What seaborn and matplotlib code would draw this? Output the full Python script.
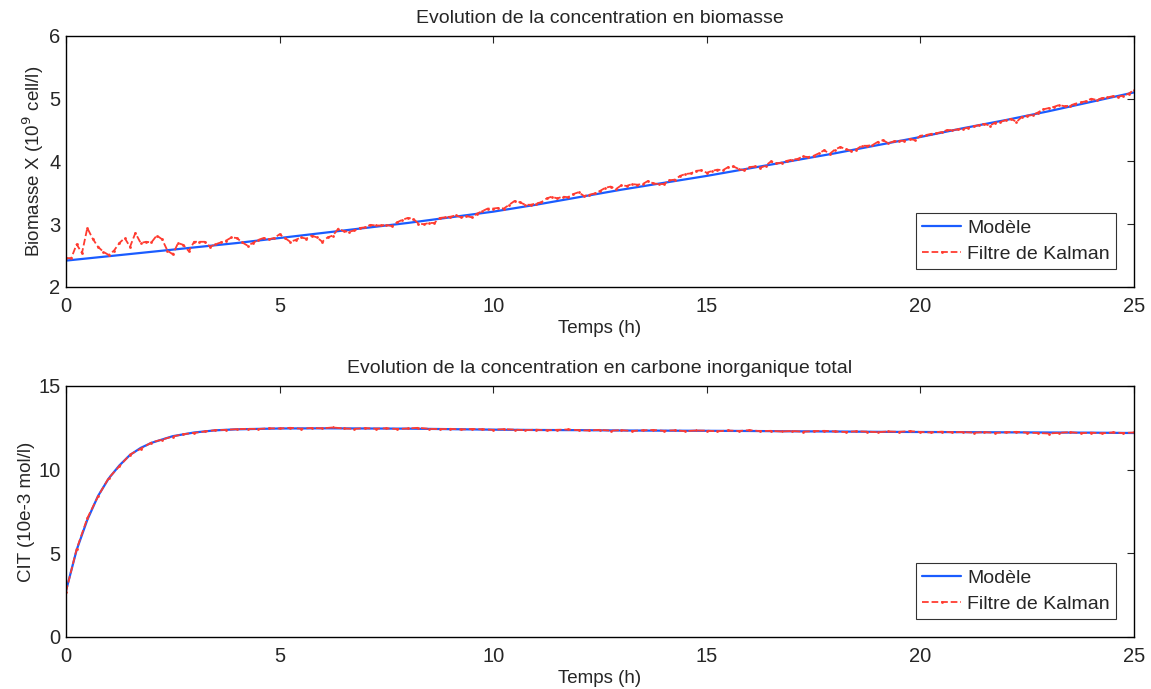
import numpy as np
import pandas as pd
import matplotlib
matplotlib.use("Agg")
import matplotlib.pyplot as plt
import seaborn as sns

# ---- biomasse (haut) ----
t_model_x = list(range(0, 26))
model_x = [2.42, 2.49, 2.56, 2.63, 2.70, 2.78, 2.86, 2.94, 3.02, 3.11,
           3.20, 3.31, 3.43, 3.55, 3.66, 3.77, 3.89, 4.01, 4.13, 4.26,
           4.39, 4.53, 4.66, 4.80, 4.95, 5.10]

# Kalman, pas de 0.125 h
kalman_x = [
    2.46, 2.46, 2.68, 2.54, 2.94, 2.77, 2.64, 2.56,
    2.51, 2.58, 2.70, 2.78, 2.64, 2.86, 2.70, 2.72,
    2.71, 2.82, 2.76, 2.58, 2.52, 2.70, 2.67, 2.57,
    2.72, 2.72, 2.72, 2.64, 2.68, 2.71, 2.74, 2.79,
    2.78, 2.71, 2.66, 2.70, 2.75, 2.78, 2.76, 2.78,
    2.84, 2.78, 2.72, 2.75, 2.79, 2.77, 2.82, 2.79,
    2.72, 2.79, 2.82, 2.93, 2.89, 2.88, 2.90, 2.94,
    2.95, 2.99, 2.98, 2.98, 2.99, 2.97, 3.03, 3.07,
    3.10, 3.09, 3.01, 3.00, 3.02, 3.02, 3.10, 3.11,
    3.12, 3.14, 3.11, 3.13, 3.11, 3.17, 3.21, 3.25,
    3.25, 3.26, 3.25, 3.31, 3.37, 3.35, 3.31, 3.31,
    3.33, 3.35, 3.41, 3.44, 3.41, 3.44, 3.43, 3.48,
    3.51, 3.45, 3.47, 3.49, 3.53, 3.58, 3.60, 3.56,
    3.62, 3.61, 3.64, 3.63, 3.64, 3.69, 3.65, 3.64,
    3.64, 3.70, 3.71, 3.77, 3.80, 3.81, 3.85, 3.86,
    3.82, 3.85, 3.87, 3.86, 3.91, 3.92, 3.88, 3.86,
    3.91, 3.92, 3.90, 3.93, 4.00, 3.97, 3.98, 4.01,
    4.03, 4.04, 4.08, 4.07, 4.09, 4.13, 4.18, 4.12,
    4.19, 4.23, 4.20, 4.17, 4.19, 4.25, 4.25, 4.26,
    4.31, 4.34, 4.29, 4.32, 4.33, 4.33, 4.36, 4.34,
    4.41, 4.42, 4.44, 4.45, 4.47, 4.50, 4.50, 4.51,
    4.52, 4.54, 4.56, 4.58, 4.60, 4.57, 4.62, 4.63,
    4.66, 4.68, 4.63, 4.71, 4.73, 4.74, 4.78, 4.83,
    4.85, 4.87, 4.90, 4.88, 4.89, 4.92, 4.94, 4.96,
    5.00, 4.98, 5.01, 5.02, 5.04, 5.03, 5.05, 5.08,
    5.14,
]
t_kalman_x = np.linspace(0, 25, len(kalman_x))

# ---- CIT (bas) ----
t_model_c = [0, 0.25, 0.5, 0.75, 1, 1.25, 1.5, 1.75, 2, 2.5, 3, 3.5, 4,
             5, 6, 7, 8, 9, 10, 11, 12, 13, 14, 15, 16, 17, 18, 19, 20,
             21, 22, 23, 24, 25]
model_c = [2.75, 5.20, 7.00, 8.42, 9.47, 10.25, 10.88, 11.30, 11.60, 12.00,
           12.22, 12.35, 12.41, 12.46, 12.47, 12.46, 12.45, 12.42, 12.39,
           12.37, 12.36, 12.34, 12.33, 12.32, 12.31, 12.29, 12.28, 12.26,
           12.25, 12.24, 12.23, 12.22, 12.21, 12.19]

# Kalman, pas de 0.25 h
kalman_c = [
    2.70, 5.25, 7.10, 8.40,
    9.50, 10.20, 10.90, 11.25,
    11.62, 11.80, 11.98, 12.12,
    12.20, 12.28, 12.36, 12.38,
    12.42, 12.44, 12.43, 12.47,
    12.46, 12.50, 12.45, 12.49,
    12.47, 12.52, 12.46, 12.44,
    12.48, 12.45, 12.47, 12.43,
    12.46, 12.50, 12.44, 12.42,
    12.44, 12.40, 12.43, 12.41,
    12.38, 12.42, 12.39, 12.36,
    12.39, 12.35, 12.38, 12.40,
    12.36, 12.34, 12.38, 12.33,
    12.36, 12.31, 12.35, 12.37,
    12.32, 12.35, 12.30, 12.34,
    12.33, 12.29, 12.34, 12.31,
    12.36, 12.30, 12.32, 12.28,
    12.31, 12.27, 12.30, 12.32,
    12.28, 12.25, 12.29, 12.27,
    12.24, 12.28, 12.26, 12.30,
    12.25, 12.22, 12.27, 12.23,
    12.25, 12.21, 12.24, 12.20,
    12.23, 12.26, 12.21, 12.19,
    12.16, 12.20, 12.24, 12.18,
    12.21, 12.17, 12.22, 12.19,
    12.22,
]
t_kalman_c = np.linspace(0, 25, len(kalman_c))

blue = "#1a5cff"
red = "#ff3b30"

sns.set_style("white")
plt.rcParams["font.family"] = ["Liberation Sans", "DejaVu Sans"]
plt.rcParams["xtick.direction"] = "in"
plt.rcParams["ytick.direction"] = "in"

fig = plt.figure(figsize=(11.51, 6.89), dpi=100)
ax1 = fig.add_axes([0.0573, 0.5835, 0.9279, 0.3643])
ax2 = fig.add_axes([0.0573, 0.0755, 0.9279, 0.3643])

panels = [
    (ax1, t_model_x, model_x, t_kalman_x, kalman_x, (2, 6), [2, 3, 4, 5, 6],
     "Evolution de la concentration en biomasse",
     "Biomasse X (10$^9$ cell/l)"),
    (ax2, t_model_c, model_c, t_kalman_c, kalman_c, (0, 15), [0, 5, 10, 15],
     "Evolution de la concentration en carbone inorganique total",
     "CIT (10e-3 mol/l)"),
]

for ax, tm, ym, tk, yk, ylim, yticks, title, ylabel in panels:
    sns.lineplot(x=tm, y=ym, ax=ax, color=blue, linewidth=1.6, label="Modèle")
    sns.lineplot(x=tk, y=yk, ax=ax, color=red, linewidth=1.3, linestyle="--",
                 marker=".", markersize=4, markeredgewidth=0,
                 label="Filtre de Kalman")
    ax.set_xlim(0, 25)
    ax.set_ylim(*ylim)
    ax.set_yticks(yticks)
    ax.set_xticks([0, 5, 10, 15, 20, 25])
    ax.tick_params(labelsize=14.5, length=5, width=0.8, top=True, right=True)
    ax.tick_params(axis="x", pad=7)
    ax.tick_params(axis="y", pad=4)
    for s in ax.spines.values():
        s.set_color("black")
        s.set_linewidth(1.0)
    ax.set_title(title, fontsize=14, pad=9)
    ax.set_xlabel("Temps (h)", fontsize=13.5, labelpad=3)
    ax.set_ylabel(ylabel, fontsize=13.5, labelpad=2)
    leg = ax.legend(loc="lower right", fontsize=14, frameon=True,
                    fancybox=False, borderpad=0.35, handlelength=2.0,
                    handletextpad=0.3, labelspacing=0.4,
                    borderaxespad=0.9)
    leg.get_frame().set_edgecolor("black")
    leg.get_frame().set_linewidth(0.8)

fig.savefig("out.png", dpi=100)
